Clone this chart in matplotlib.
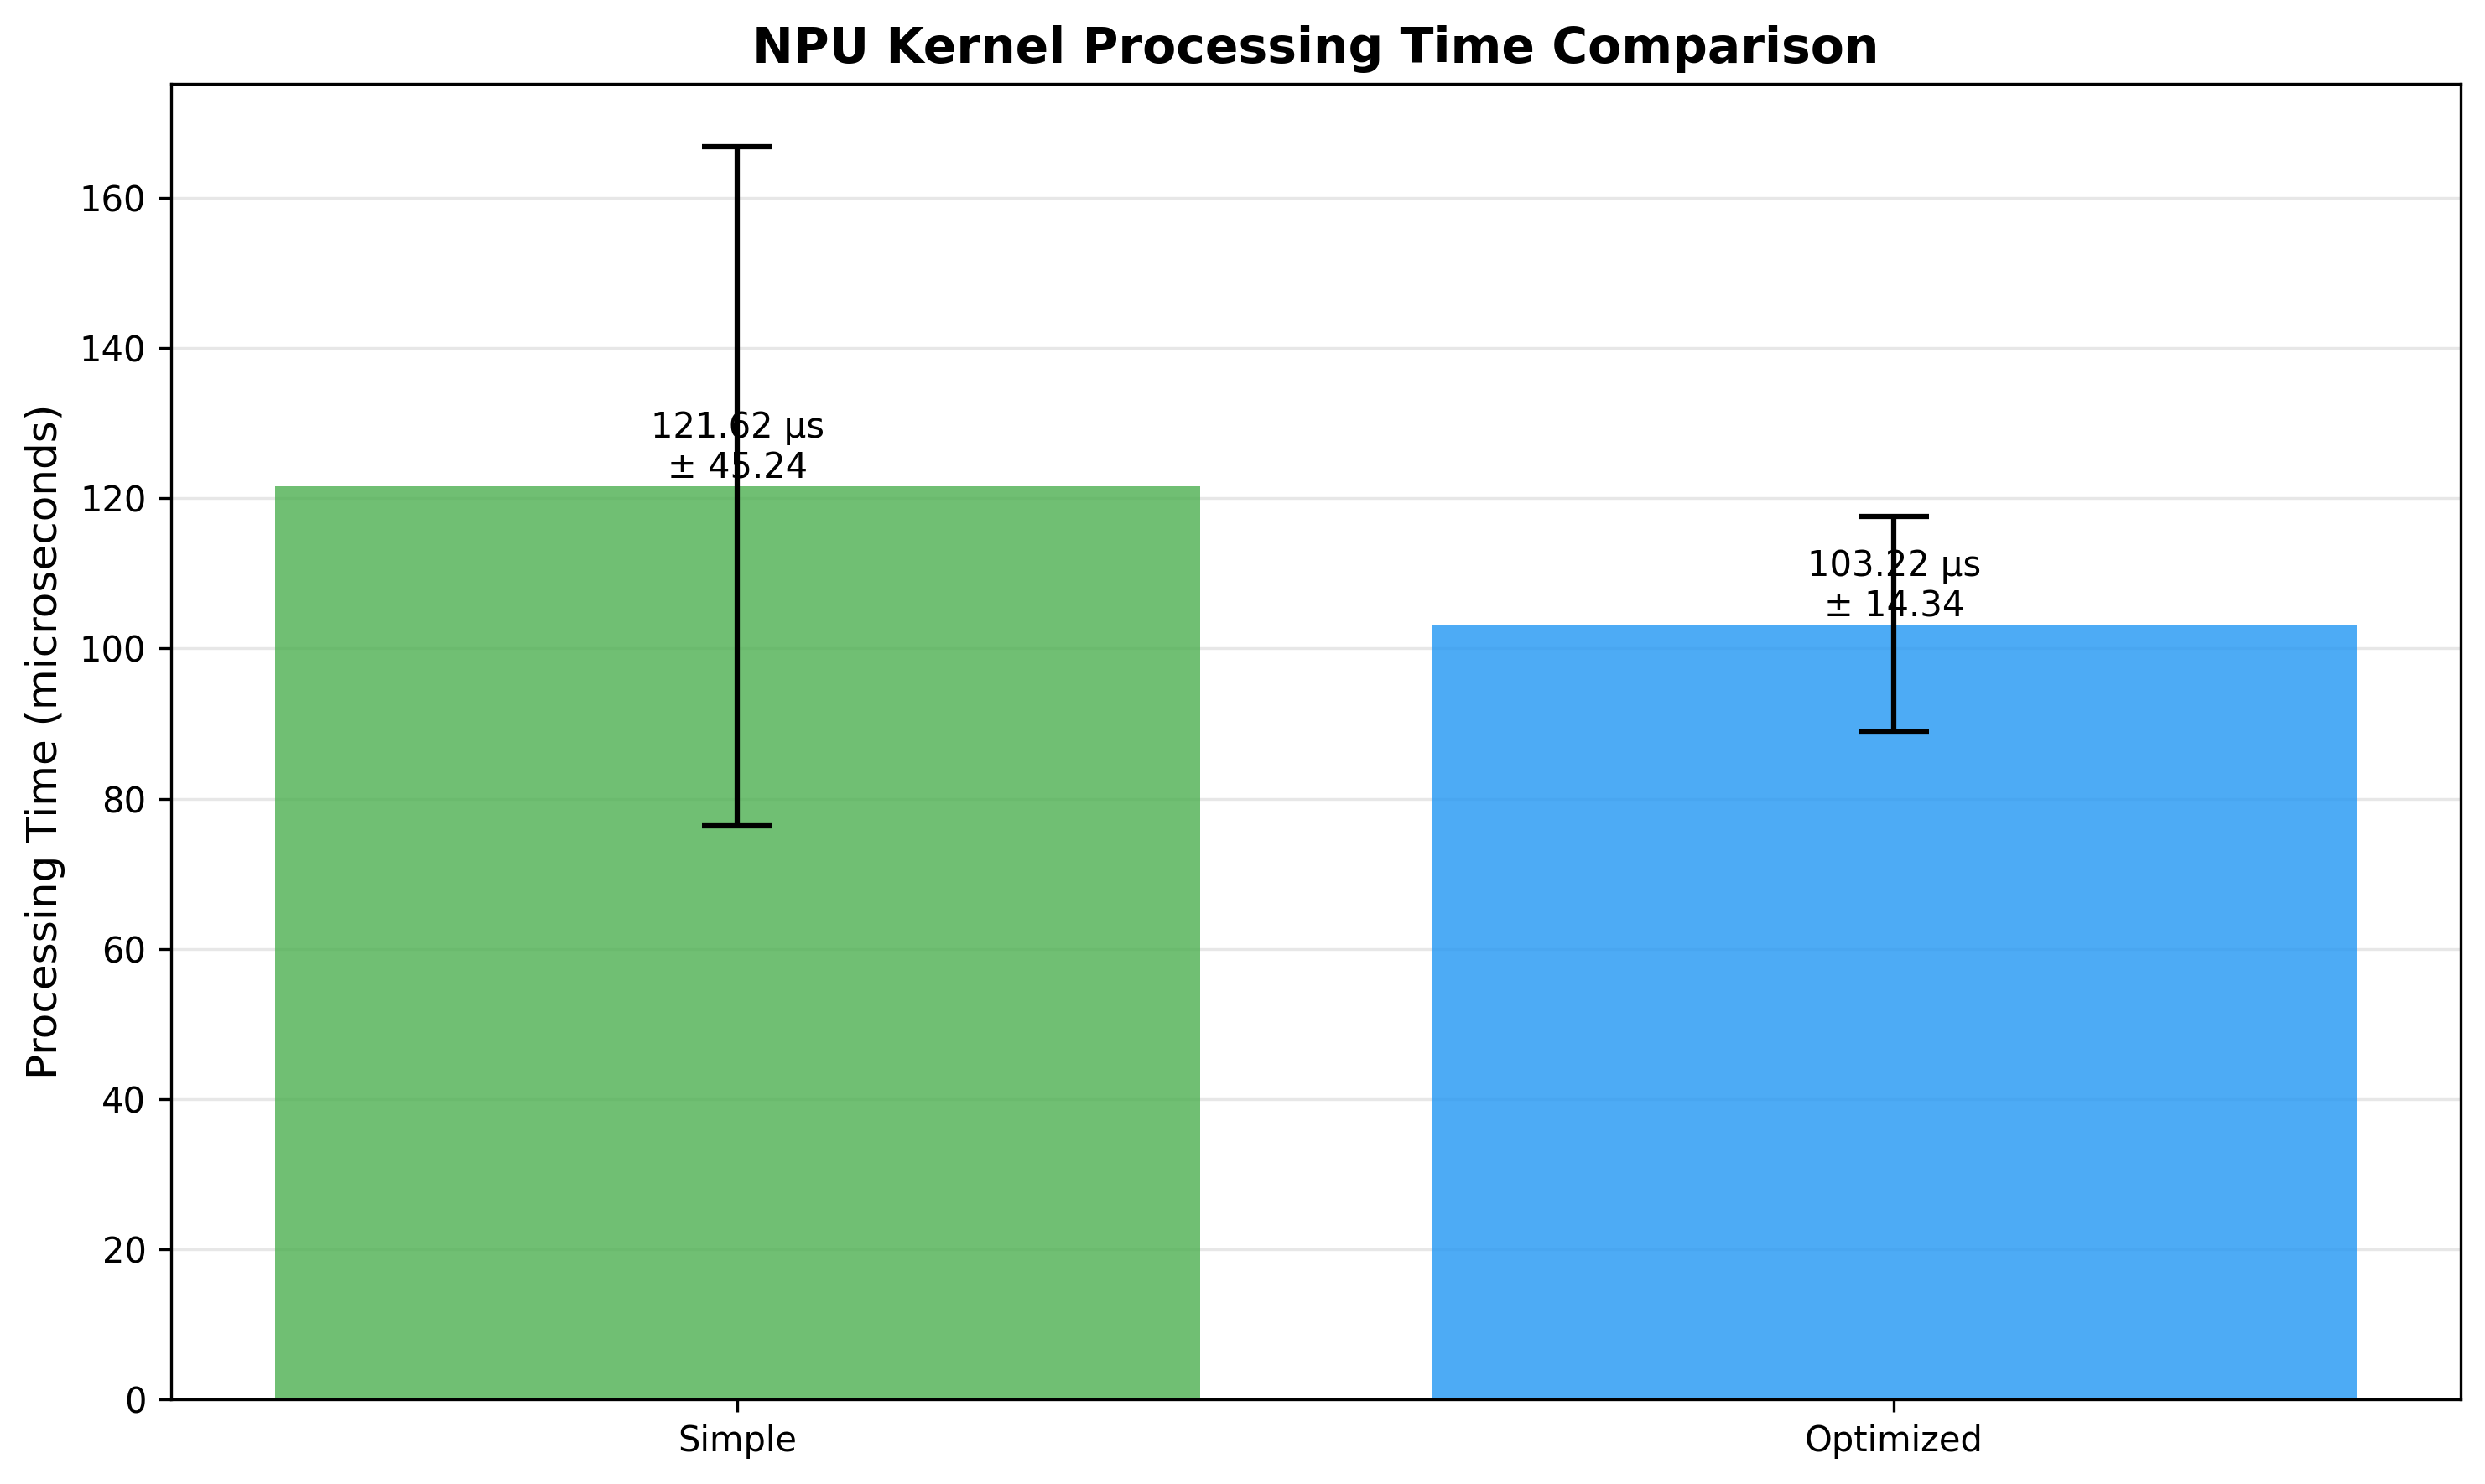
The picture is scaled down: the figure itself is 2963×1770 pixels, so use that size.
import numpy as np
import matplotlib.pyplot as plt

# data
kernels = ["Simple", "Optimized"]
mean_us = [121.62, 103.22]
std_us = [45.24, 14.34]
bar_colors = ["#4CAF50", "#2196F3"]

fig, ax = plt.subplots(figsize=(2963 / 300, 1770 / 300), dpi=300)
fig.subplots_adjust(left=0.0687, right=0.9902, top=0.9435, bottom=0.0571)

x = np.arange(len(kernels))
bars = ax.bar(x, mean_us, yerr=std_us, capsize=10, color=bar_colors, alpha=0.8,
              error_kw=dict(ecolor="black", elinewidth=1.5, capthick=1.5))

# value labels on top of bars
for b, m, s in zip(bars, mean_us, std_us):
    ax.text(b.get_x() + b.get_width() / 2, b.get_height(),
            f"{m:.2f} μs\n± {s:.2f}", ha="center", va="bottom", fontsize=10)

ax.set_xticks(x)
ax.set_xticklabels(kernels)
ax.set_ylabel("Processing Time (microseconds)", fontsize=12)
ax.set_title("NPU Kernel Processing Time Comparison", fontsize=14, fontweight="bold")
ax.grid(axis="y", alpha=0.3)
ax.set_axisbelow(True)

plt.savefig("out.png", dpi=300)
